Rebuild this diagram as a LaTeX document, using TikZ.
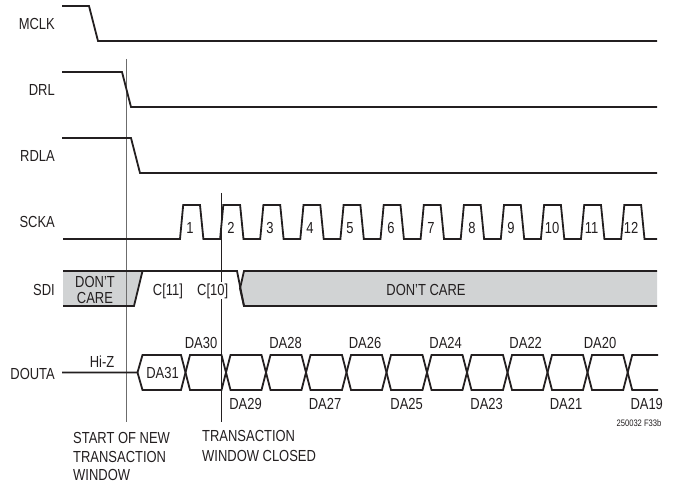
\documentclass[tikz,border=0pt]{standalone}
\usepackage{fontspec}
\setmainfont[FakeStretch=0.81]{Liberation Sans}
\definecolor{ink}{HTML}{231F20}
\definecolor{dc}{HTML}{D1D3D4}
\tikzset{
  sig/.style={draw=ink,line width=1.8bp,line join=miter,miter limit=4},
  lbl/.style={inner sep=0pt,anchor=base,text=ink,font=\fontsize{16bp}{18bp}\selectfont},
  signame/.style={lbl,anchor=base east},
  lft/.style={lbl,anchor=base west},
}
\begin{document}
\begin{tikzpicture}[x=1bp,y=-1bp]
\useasboundingbox (0,0) rectangle (673,483);
% gray regions
\fill[dc] (63,271) -- (142.5,271) -- (134,306) -- (63,306) -- cycle;
\fill[dc] (244,271) -- (240,288.5) -- (244,306) -- (657,306) -- (657,271) -- cycle;
% vertical markers
\coordinate (v1t) at (126,59); \coordinate (v1b) at (126,422);
\coordinate (v2t) at (221,193); \coordinate (v2b) at (221,422);
\draw[gray!85!black,line width=0.8bp] (v1t) -- (v1b);
\draw[ink,line width=0.8bp] (v2t) -- (v2b);
% simple signals
\draw[sig] (62,6) -- (89,6) -- (98,41) -- (657,41);
\draw[sig] (62,72) -- (122,72) -- (131,107) -- (657,107);
\draw[sig] (62,138) -- (131,138) -- (140,173) -- (657,173);
% SCKA
\draw[sig] (63,239)
  -- (180,239) -- (183.2,205) -- (200,205) -- (203.4,239)
  -- (220.1,239) -- (223.3,205) -- (240.1,205) -- (243.5,239)
  -- (260.2,239) -- (263.4,205) -- (280.2,205) -- (283.6,239)
  -- (300.3,239) -- (303.5,205) -- (320.3,205) -- (323.7,239)
  -- (340.4,239) -- (343.6,205) -- (360.4,205) -- (363.8,239)
  -- (380.5,239) -- (383.7,205) -- (400.5,205) -- (403.9,239)
  -- (420.6,239) -- (423.8,205) -- (440.6,205) -- (444,239)
  -- (460.7,239) -- (463.9,205) -- (480.7,205) -- (484.1,239)
  -- (500.8,239) -- (504,205) -- (520.8,205) -- (524.2,239)
  -- (540.9,239) -- (544.1,205) -- (560.9,205) -- (564.3,239)
  -- (581,239) -- (584.2,205) -- (601,205) -- (604.4,239)
  -- (621.1,239) -- (624.3,205) -- (641.1,205) -- (644.5,239)
  -- (657,239);
% SDI
\draw[sig] (63,271) -- (237,271) -- (244,306) -- (657,306);
\draw[sig] (63,306) -- (134,306) -- (142.5,271);
\draw[sig] (657,271) -- (244,271) -- (240,288.5) -- (244,306);
% DOUTA
\draw[sig] (62,372.5) -- (137.5,372.5) -- (142.5,355) -- (181,355) -- (190,390) -- (221.5,390) -- (230.5,355)
  -- (261.5,355) -- (270.5,390) -- (301.5,390) -- (310.5,355)
  -- (342,355) -- (351,390) -- (382,390) -- (391,355)
  -- (422.5,355) -- (431.5,390) -- (462.5,390) -- (471.5,355)
  -- (503,355) -- (512,390) -- (543,390) -- (552,355)
  -- (583,355) -- (592,390) -- (623.2,390) -- (632.2,355) -- (658,355);
\draw[sig] (137.5,372.5) -- (142.5,390) -- (181,390) -- (190,355) -- (221.5,355) -- (230.5,390)
  -- (261.5,390) -- (270.5,355) -- (301.5,355) -- (310.5,390)
  -- (342,390) -- (351,355) -- (382,355) -- (391,390)
  -- (422.5,390) -- (431.5,355) -- (462.5,355) -- (471.5,390)
  -- (503,390) -- (512,355) -- (543,355) -- (552,390)
  -- (583,390) -- (592,355) -- (623.2,355) -- (632.2,390) -- (658,390);
% signal names
\node[signame] (mclk) at (55,30) {MCLK};
\node[signame] (drl) at (55,96) {DRL};
\node[signame] (rdla) at (55,162) {RDLA};
\node[signame] (scka) at (55,228) {SCKA};
\node[signame] (sdi) at (55,295) {SDI};
\node[signame] (douta) at (55,379) {DOUTA};
% pulse numbers
\node[lbl] (n1) at (190,234) {1};
\node[lbl] (n2) at (231,234) {2};
\node[lbl] (n3) at (270,234) {3};
\node[lbl] (n4) at (310,234) {4};
\node[lbl] (n5) at (350,234) {5};
\node[lbl] (n6) at (391,234) {6};
\node[lbl] (n7) at (431,234) {7};
\node[lbl] (n8) at (472,234) {8};
\node[lbl] (n9) at (511,234) {9};
\node[lbl] (n10) at (552,234) {10};
\node[lbl] (n11) at (591.5,234) {11};
\node[lbl] (n12) at (631,234) {12};
% SDI text
\node[lbl] (dc1) at (95,287) {DON'T};
\node[lbl] (dc2) at (95,303) {CARE};
\node[lbl] (c11) at (168,295) {C[11]};
\node[lbl,fill=white,inner sep=1pt] (c10) at (212.7,295) {C[10]};
\node[lbl] (dc3) at (426,295) {DON'T CARE};
% DOUTA text
\node[lbl] (hiz) at (102,367) {Hi-Z};
\node[lbl] (d31) at (162.5,378) {DA31};
\node[lbl] (d30) at (201,348) {DA30};
\node[lbl] (d28) at (285.5,348) {DA28};
\node[lbl] (d26) at (365,348) {DA26};
\node[lbl] (d24) at (445.7,348) {DA24};
\node[lbl] (d22) at (525.7,348) {DA22};
\node[lbl] (d20) at (600,348) {DA20};
\node[lbl] (d29) at (245.5,409) {DA29};
\node[lbl] (d27) at (325,409) {DA27};
\node[lbl] (d25) at (406.7,409) {DA25};
\node[lbl] (d23) at (486.7,409) {DA23};
\node[lbl] (d21) at (566,409) {DA21};
\node[lbl] (d19) at (646.7,409) {DA19};
\node[lbl,font=\fontsize{9.4bp}{11bp}\selectfont] (fig) at (639,426) {250032 F33b};
% notes
\node[lft] (s1) at (73,443) {START OF NEW};
\node[lft] (s2) at (73,462) {TRANSACTION};
\node[lft] (s3) at (73,480.5) {WINDOW};
\node[lft] (t1) at (202,441.5) {TRANSACTION};
\node[lft] (t2) at (202,461) {WINDOW CLOSED};
\end{tikzpicture}
\end{document}
